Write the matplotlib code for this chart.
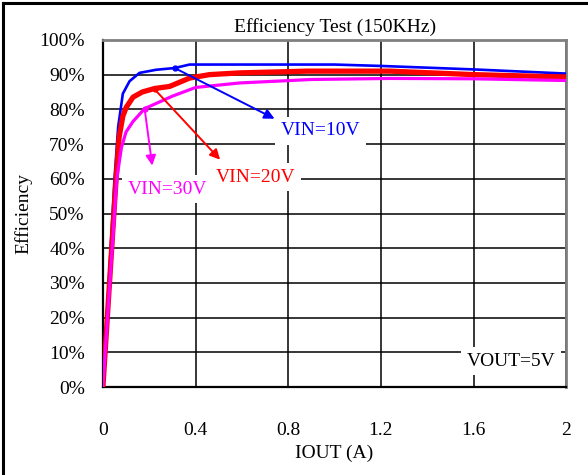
import matplotlib
matplotlib.use("Agg")
import matplotlib.pyplot as plt
from matplotlib.lines import Line2D
from matplotlib.ticker import MultipleLocator, FuncFormatter

plt.rcParams['font.family'] = ['Liberation Serif', 'DejaVu Serif']

# 曲线数据 (IOUT [A], 效率 [%])
iout_10v = [0, 0.05, 0.066, 0.086, 0.115, 0.158, 0.23, 0.31, 0.374, 0.6, 1.0, 1.2, 1.6, 2.0]
eff_10v = [0, 60, 75, 84.5, 88.1, 90.5, 91.4, 91.9, 92.9, 92.9, 92.9, 92.5, 91.5, 90.3]

iout_20v = [0, 0.057, 0.07, 0.086, 0.1, 0.13, 0.17, 0.223, 0.288, 0.374, 0.46, 0.59, 0.88, 1.24, 1.6, 2.0]
eff_20v = [0, 60, 72, 78, 80.5, 83.5, 85.0, 86.0, 86.6, 89.0, 90.0, 90.5, 91.0, 91.0, 90.0, 89.3]

iout_30v = [0, 0.06, 0.08, 0.1, 0.13, 0.18, 0.30, 0.40, 0.59, 0.9, 1.24, 1.6, 2.0]
eff_30v = [0, 60, 69, 73.5, 76.5, 80.2, 83.8, 86.3, 87.6, 88.6, 88.9, 88.8, 88.3]

# 标注: (文字, 颜色, 文字位置, 箭头起点, 箭头终点)
labels = ['VIN=10V', 'VIN=20V', 'VIN=30V']
label_colors = ['#0000ff', '#ff0000', '#ff00ff']
label_pos = [(0.94, 73.8), (0.657, 60.5), (0.28, 57.0)]
arrow_from = [(0.31, 91.9), (0.223, 85.8), (0.18, 80.2)]
arrow_to = [(0.741, 77.3), (0.506, 65.5), (0.213, 63.8)]

x_ticks = [0, 0.4, 0.8, 1.2, 1.6, 2]

fig = plt.figure(figsize=(5.88, 4.75), dpi=100)
ax = fig.add_axes([0.175, 0.185, 0.788, 0.731])

ax.plot(iout_10v, eff_10v, color='#0000ff', lw=1.9, zorder=3)
ax.plot(iout_20v, eff_20v, color='#ff0000', lw=3.8, zorder=4)
ax.plot(iout_30v, eff_30v, color='#ff00ff', lw=2.3, zorder=5)

for txt, c, pos, p0, p1 in zip(labels, label_colors, label_pos, arrow_from, arrow_to):
    ax.annotate('', xy=p1, xytext=p0,
                arrowprops=dict(arrowstyle='-|>', color=c, lw=1.4, mutation_scale=15,
                                shrinkA=0, shrinkB=0), zorder=6)
    ax.plot([p0[0]], [p0[1]], marker='o', ms=3.5, color=c, zorder=6)
    ax.text(pos[0], pos[1], txt, color=c, fontsize=14, ha='center', va='center', zorder=7,
            bbox=dict(facecolor='white', edgecolor='none', pad=4))

ax.text(1.763, 7.5, 'VOUT=5V', color='black', fontsize=14, ha='center', va='center', zorder=7,
        bbox=dict(facecolor='white', edgecolor='none', pad=4))

ax.set_xlim(0, 2)
ax.set_ylim(0, 100)
ax.set_xticks(x_ticks)
ax.set_xticklabels(['0', '0.4', '0.8', '1.2', '1.6', '2'])
ax.yaxis.set_major_locator(MultipleLocator(10))
ax.yaxis.set_major_formatter(FuncFormatter(lambda v, p: '%d%%' % v))
ax.tick_params(axis='x', direction='in', length=0, pad=25, labelsize=14)
ax.tick_params(axis='y', direction='in', length=0, pad=13, labelsize=14)
ax.grid(True, color='black', lw=1.1)
ax.set_axisbelow(True)

for s in ['left', 'bottom']:
    ax.spines[s].set_color('black')
    ax.spines[s].set_linewidth(1.6)
for s in ['top', 'right']:
    ax.spines[s].set_color('#808080')
    ax.spines[s].set_linewidth(2)

ax.set_title('Efficiency Test (150KHz)', fontsize=14, pad=6)
ax.set_xlabel('IOUT (A)', fontsize=14, labelpad=4)
ax.set_ylabel('Efficiency', fontsize=14, labelpad=5)

# 外框 (只有上边和左边)
fig.add_artist(Line2D([0.005, 0.005], [0, 0.994], color='black', lw=2.2))
fig.add_artist(Line2D([0.005, 1], [0.994, 0.994], color='black', lw=2.2))

fig.savefig('out.png', dpi=100)
